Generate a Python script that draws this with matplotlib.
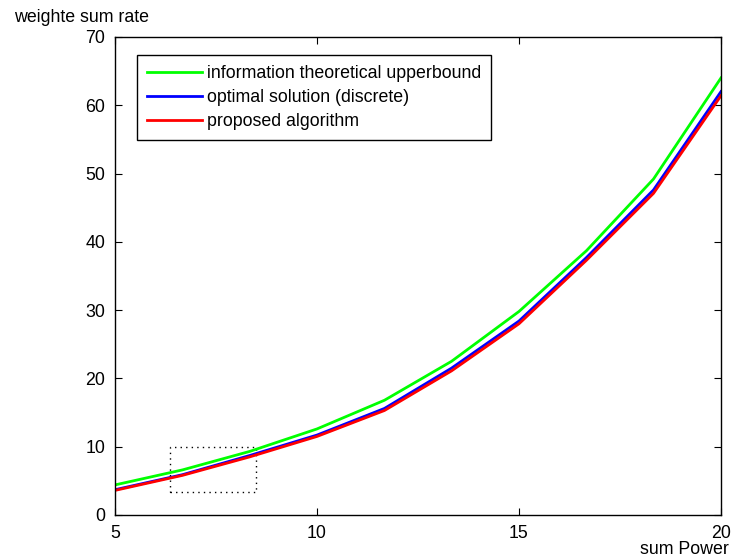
import matplotlib
matplotlib.use("Agg")
import matplotlib.pyplot as plt
from matplotlib.patches import Rectangle

plt.rcParams['font.family'] = ['Liberation Sans', 'DejaVu Sans']

x_power = [5, 6.67, 8.33, 10, 11.67, 13.33, 15, 16.67, 18.33, 20]
upper_bound = [4.4, 6.6, 9.3, 12.6, 16.8, 22.5, 29.8, 38.7, 49.2, 64.0]
optimal = [3.7, 5.9, 8.7, 11.7, 15.6, 21.5, 28.4, 37.7, 47.6, 62.0]
proposed = [3.6, 5.8, 8.5, 11.5, 15.3, 21.1, 28.0, 37.3, 47.1, 61.4]
labels = ['information theoretical upperbound', 'optimal solution (discrete)', 'proposed algorithm']
zoom_box = (6.36, 3.4, 8.49, 10.0)

FS = 12.8

fig = plt.figure(figsize=(7.31, 5.60), dpi=100)
ax = fig.add_axes([0.1573, 0.0804, 0.829, 0.8536])

ax.plot(x_power, upper_bound, color=(0, 1, 0), lw=2, label=labels[0])
ax.plot(x_power, optimal, color=(0, 0, 1), lw=2, label=labels[1])
ax.plot(x_power, proposed, color=(1, 0, 0), lw=2, label=labels[2])

x0, y0, x1, y1 = zoom_box
ax.add_patch(Rectangle((x0, y0), x1 - x0, y1 - y0, fill=False, ec='black', lw=1,
                       ls=(0, (1, 3))))

ax.set_xlim(5, 20)
ax.set_ylim(0, 70)
ax.set_xticks([5, 10, 15, 20])
ax.set_yticks(range(0, 71, 10))
ax.tick_params(direction='in', length=5, top=True, right=True, labelsize=FS, pad=7)
for s in ax.spines.values():
    s.set_linewidth(1)

leg = ax.legend(loc='upper left', bbox_to_anchor=(0.036, 0.962), fontsize=FS,
                frameon=True, fancybox=False, edgecolor='black', framealpha=1,
                handlelength=3.1, borderpad=0.55, labelspacing=0.4, handletextpad=0.3,
                borderaxespad=0)
leg.get_frame().set_linewidth(1)

fig.text(14 / 731, 1 - 18 / 560, 'weighte sum rate', fontsize=FS, ha='left', va='center')
fig.text(729 / 731, 1 - 549 / 560, 'sum Power', fontsize=FS, ha='right', va='center')

fig.savefig('out.png', dpi=100)
